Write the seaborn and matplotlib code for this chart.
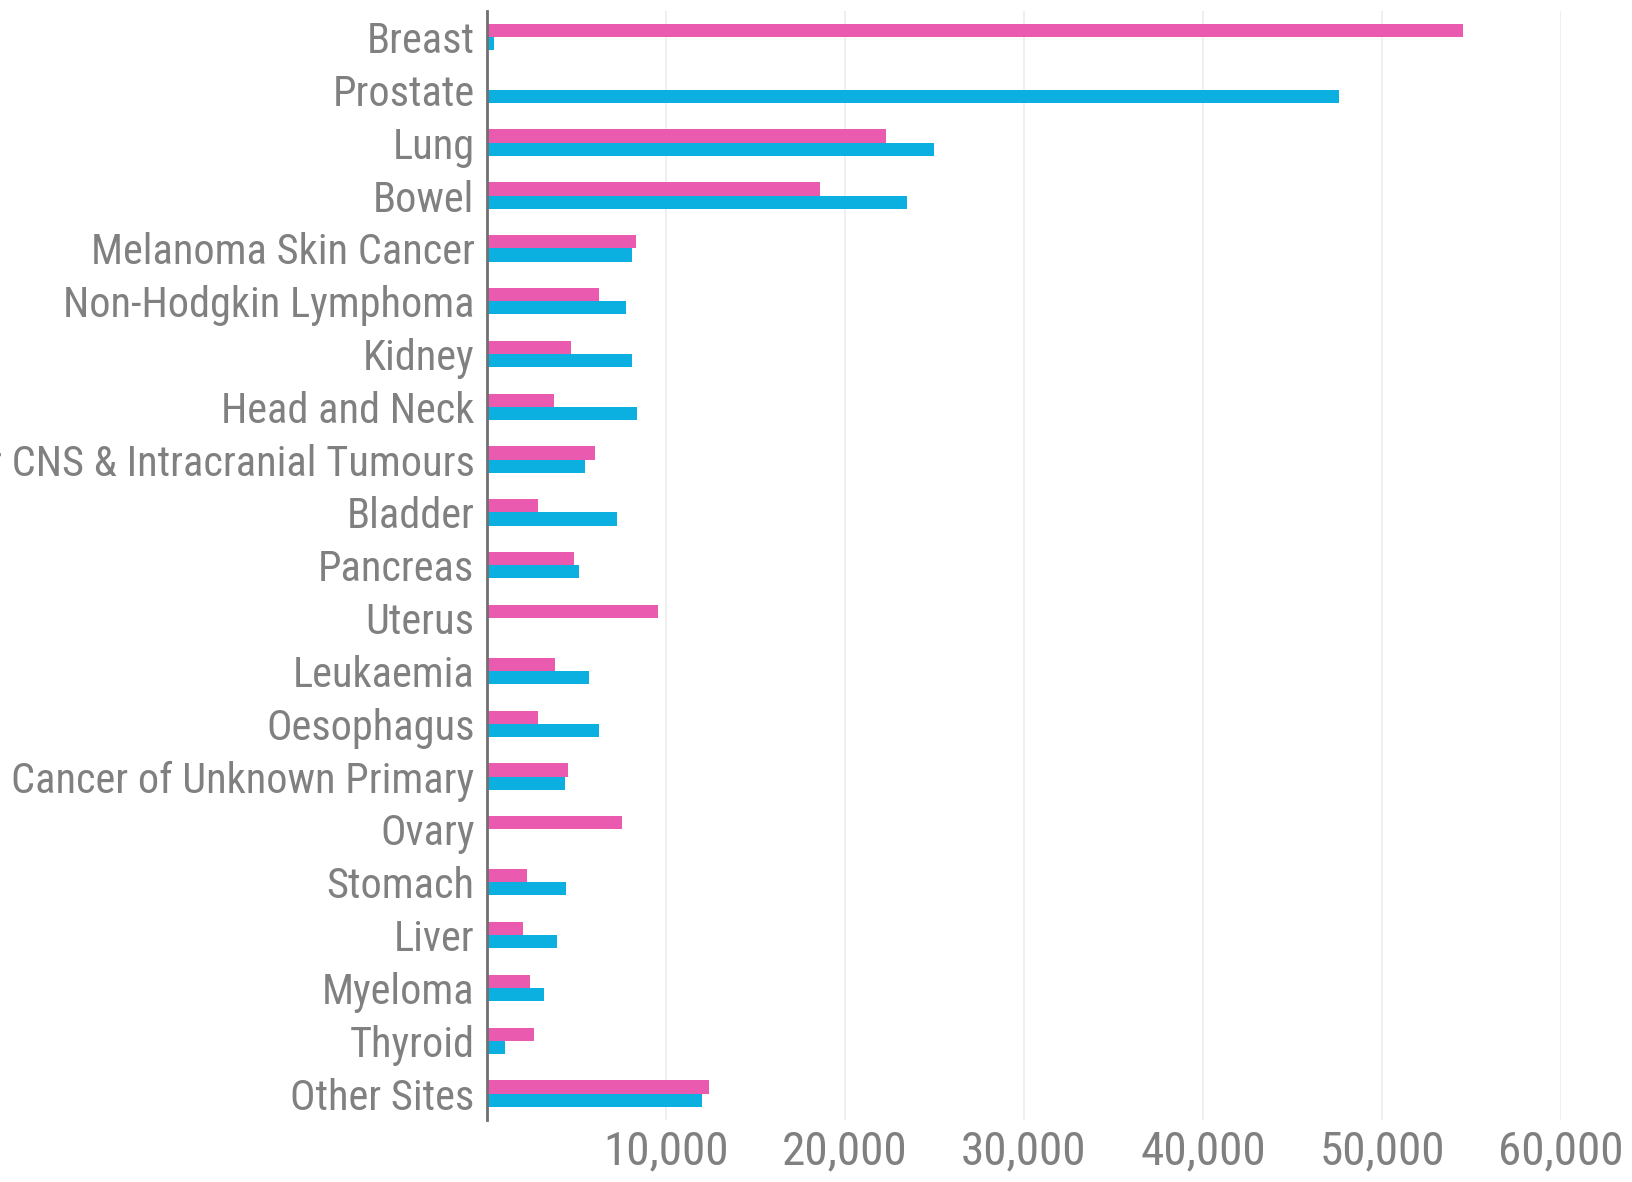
import matplotlib
matplotlib.use("Agg")
import matplotlib.pyplot as plt
from matplotlib import font_manager
from matplotlib.ticker import FuncFormatter
import seaborn as sns
import pandas as pd

sites = ["Breast", "Prostate", "Lung", "Bowel", "Melanoma Skin Cancer",
         "Non-Hodgkin Lymphoma", "Kidney", "Head and Neck",
         "Brain, Other CNS & Intracranial Tumours", "Bladder", "Pancreas",
         "Uterus", "Leukaemia", "Oesophagus", "Cancer of Unknown Primary",
         "Ovary", "Stomach", "Liver", "Myeloma", "Thyroid", "Other Sites"]
female = [54500, 0, 22300, 18600, 8300, 6280, 4720, 3750, 6040, 2870, 4840,
          9560, 3780, 2870, 4550, 7540, 2230, 2020, 2430, 2640, 12400]
male = [370, 47600, 25000, 23480, 8090, 7770, 8090, 8390, 5450, 7240, 5160,
        0, 5720, 6280, 4340, 0, 4400, 3900, 3200, 1000, 12020]
sexes = ["Female", "Male"]
xticks = [10000, 20000, 30000, 40000, 50000, 60000]

df = pd.DataFrame({
    "site": sites * 2,
    "sex": ["Female"] * len(sites) + ["Male"] * len(sites),
    "cases": female + male,
})

sns.set_theme(style="white")
avail = {f.name for f in font_manager.fontManager.ttflist}
fam = "DejaVu Sans"
for cand in ["Roboto Condensed", "Liberation Sans Narrow", "DejaVu Sans Condensed", "Roboto"]:
    if cand in avail:
        fam = cand
        break
plt.rcParams["font.family"] = [fam, "DejaVu Sans"]

fig = plt.figure(figsize=(16.33, 11.82), dpi=100)
ax = fig.add_axes([0.2982, 0.0525, 0.9559 - 0.2982, 0.991 - 0.0525])

sns.barplot(data=df, y="site", x="cases", hue="sex", hue_order=sexes,
            palette={"Female": "#EA5AAE", "Male": "#0BB0E1"},
            width=0.5, ax=ax, legend=False, saturation=1, linewidth=0)

ax.set_xlim(0, 60000)
ax.set_xticks(xticks)
ax.xaxis.set_major_formatter(FuncFormatter(lambda v, p: f"{int(v):,}"))
ax.grid(axis="x", color="#ececec", linewidth=1.2)
ax.set_axisbelow(True)
for s in ["top", "right", "bottom"]:
    ax.spines[s].set_visible(False)
ax.spines["left"].set_color("#6f6f6f")
ax.spines["left"].set_linewidth(2)
ax.set_xlabel("")
ax.set_ylabel("")
ax.tick_params(axis="y", length=0, pad=9, labelsize=30.5, labelcolor="#808080")
ax.tick_params(axis="x", length=0, pad=7, labelsize=34, labelcolor="#808080")

fig.savefig("out.png", dpi=100)
